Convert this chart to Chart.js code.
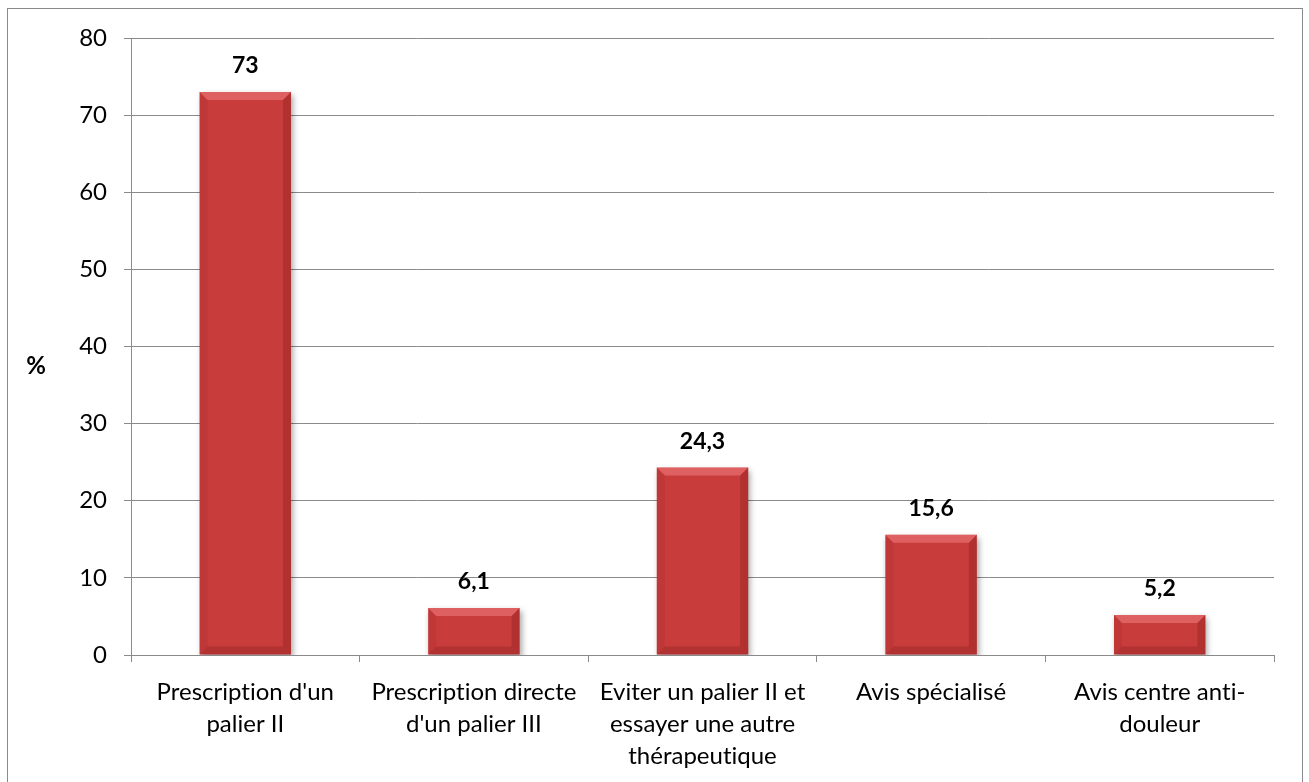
<!DOCTYPE html>
<html>
<head>
<meta charset="utf-8">
<script src="https://cdn.jsdelivr.net/npm/chart.js@4.4.1/dist/chart.umd.min.js"></script>
<style>
  html, body { margin: 0; padding: 0; background: #ffffff; }
  #wrap { width: 1309px; height: 782px; position: relative; }
</style>
</head>
<body>
<div id="wrap"><canvas id="c" width="1309" height="782"></canvas></div>
<script>
// Categories (multi-line labels) and percentages
const categories = [
  ["Prescription d'un", "palier II"],
  ["Prescription directe", "d'un palier III"],
  ["Eviter un palier II et", "essayer une autre", "thérapeutique"],
  ["Avis spécialisé"],
  ["Avis centre anti-", "douleur"]
];
const values = [73, 6.1, 24.3, 15.6, 5.2];
const yTicks = [0, 10, 20, 30, 40, 50, 60, 70, 80];
const yTitle = "%";

const FONT = "Lato, 'Open Sans', sans-serif";
const GRID = "#8a8a8a";

function fmt(v) { return String(v).replace(".", ","); }

// Vertical red gradient per bar
function barFill(ctx) {
  const el = ctx.element;
  const c = ctx.chart.ctx;
  if (!el || el.y === undefined || isNaN(el.y)) return "#c93c3c";
  const g = c.createLinearGradient(0, el.y, 0, el.base);
  g.addColorStop(0, "#e04848");
  g.addColorStop(1, "#a83232");
  return g;
}

// Soft shadow under bars, bevelled edges, value labels, axis title and frame
const bevel = {
  id: "bevel",
  beforeDraw(chart) {
    // plain glyphs, no "ti"/"fi" ligatures
    chart.ctx.textRendering = "optimizeSpeed";
  },
  beforeDatasetsDraw(chart) {
    const c = chart.ctx;
    c.save();
    c.shadowColor = "rgba(0,0,0,0.35)";
    c.shadowBlur = 6;
    c.shadowOffsetX = 2;
    c.shadowOffsetY = 3;
  },
  afterDatasetsDraw(chart) {
    const c = chart.ctx;
    c.restore();
    const meta = chart.getDatasetMeta(0);
    meta.data.forEach(bar => {
      const p = bar.getProps(["x", "y", "base", "width"], true);
      const l = p.x - p.width / 2, r = p.x + p.width / 2;
      const t = p.y, b = p.base;
      const h = b - t;
      const s = Math.min(8, h / 3);
      c.save();
      // top facet
      c.beginPath();
      c.moveTo(l, t); c.lineTo(r, t); c.lineTo(r - s, t + s); c.lineTo(l + s, t + s); c.closePath();
      c.fillStyle = "rgba(255,150,150,0.4)";
      c.fill();
      // left facet
      c.beginPath();
      c.moveTo(l, t); c.lineTo(l + s, t + s); c.lineTo(l + s, b - s); c.lineTo(l, b); c.closePath();
      c.fillStyle = "rgba(120,20,20,0.1)";
      c.fill();
      // right facet
      c.beginPath();
      c.moveTo(r, t); c.lineTo(r - s, t + s); c.lineTo(r - s, b - s); c.lineTo(r, b); c.closePath();
      c.fillStyle = "rgba(90,10,10,0.22)";
      c.fill();
      // bottom facet
      c.beginPath();
      c.moveTo(l, b); c.lineTo(l + s, b - s); c.lineTo(r - s, b - s); c.lineTo(r, b); c.closePath();
      c.fillStyle = "rgba(90,10,10,0.2)";
      c.fill();
      c.restore();
    });
  },
  afterDraw(chart) {
    const c = chart.ctx;
    c.save();
    const meta = chart.getDatasetMeta(0);
    c.font = "bold 23px " + FONT;
    c.fillStyle = "#000";
    c.textAlign = "center";
    c.textBaseline = "middle";
    meta.data.forEach((bar, i) => {
      const p = bar.getProps(["x", "y"], true);
      c.fillText(fmt(values[i]), p.x, p.y - 26);
    });
    // axis title, horizontal
    c.font = "bold 24px " + FONT;
    c.fillText(yTitle, 36, 366);
    // outer frame
    c.strokeStyle = GRID;
    c.lineWidth = 1;
    c.strokeRect(7.5, 8.5, 1295, 790);
    c.restore();
  }
};

new Chart(document.getElementById("c"), {
  type: "bar",
  data: {
    labels: categories,
    datasets: [{
      data: values,
      backgroundColor: barFill,
      borderWidth: 0,
      categoryPercentage: 1,
      barPercentage: 0.4
    }]
  },
  options: {
    responsive: false,
    animation: false,
    devicePixelRatio: 1,
    layout: { padding: { top: 38, right: 35, left: 0, bottom: 0 } },
    plugins: { legend: { display: false }, tooltip: { enabled: false } },
    scales: {
      x: {
        afterFit(s) { s.height = 127; },
        grid: { offset: true, drawOnChartArea: false, drawTicks: true, tickLength: 7, color: GRID },
        border: { color: GRID, width: 1 },
        ticks: { color: "#000", font: { family: FONT, size: 24, lineHeight: 1.34 }, padding: 14, maxRotation: 0, autoSkip: false }
      },
      y: {
        min: 0, max: 80,
        afterFit(s) { s.width = 131; },
        afterBuildTicks(s) { s.ticks = yTicks.map(v => ({ value: v })); },
        grid: { color: GRID, tickLength: 7, drawTicks: true },
        border: { color: GRID, width: 1 },
        ticks: { color: "#000", font: { family: FONT, size: 24 }, padding: 17 }
      }
    }
  },
  plugins: [bevel]
});
</script>
</body>
</html>
